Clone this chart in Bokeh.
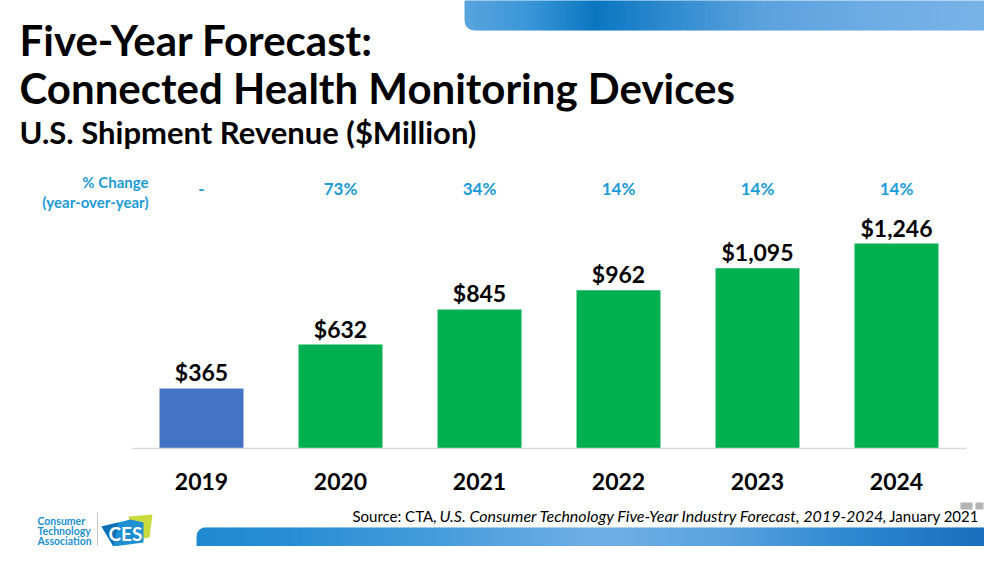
import numpy as np
from bokeh.plotting import figure
from bokeh.models import Range1d, Label
from bokeh.core.properties import value
from bokeh.embed import file_html
from bokeh.resources import INLINE

# ---------------- data ----------------
years = ["2019", "2020", "2021", "2022", "2023", "2024"]
revenue = [365, 632, 845, 962, 1095, 1246]
value_labels = ["$365", "$632", "$845", "$962", "$1,095", "$1,246"]
pct_change = ["-", "73%", "34%", "14%", "14%", "14%"]
bar_colors = ["#4472C4", "#00B050", "#00B050", "#00B050", "#00B050", "#00B050"]

FONT = "Lato"
BLUE_TXT = "#1C9AD8"

W, H = 984, 546
# layout helpers: reference pixel -> data coordinates
X0, DX = 201.0, 139.0
BASE, K = 448.0, 205.0 / 1246.0


def X(px):
    return (px - X0) / DX


def Y(py):
    return (BASE - py) / K


p = figure(width=W, height=H, output_backend="svg", toolbar_location=None,
           x_range=Range1d(X(0), X(W)), y_range=Range1d(Y(H), Y(0)),
           x_axis_location=None, y_axis_location=None,
           min_border=0, outline_line_color=None,
           background_fill_color="white", border_fill_color="white")
p.grid.visible = False


def hex2rgb(h):
    h = h.lstrip("#")
    return [int(h[i:i + 2], 16) for i in (0, 2, 4)]


def grad(stops, x):
    xs = [s[0] for s in stops]
    cols = np.array([hex2rgb(s[1]) for s in stops], dtype=float)
    r = np.interp(x, xs, cols[:, 0])
    g = np.interp(x, xs, cols[:, 1])
    b = np.interp(x, xs, cols[:, 2])
    return "#%02x%02x%02x" % (int(r), int(g), int(b))


step = 3
t = np.linspace(0, np.pi / 2, 14)

# top banner
top_stops = [(464, "#5aa4de"), (530, "#3996d8"), (595, "#0a77c1"), (660, "#2b89ce"),
             (760, "#5ca2de"), (880, "#6fade5"), (992, "#7ab4e8")]
xs = np.arange(464, 990, step)
p.quad(left=[X(v) for v in xs], right=[X(v + step + 0.6) for v in xs],
       top=[Y(-2)] * len(xs), bottom=[Y(30)] * len(xs),
       fill_color=[grad(top_stops, v + step / 2) for v in xs], line_color=None)
r = 10
p.patch([X(v) for v in [463, 463] + list(474 - r * np.cos(t))] + [X(474), X(474), X(463)],
        [Y(v) for v in [20, 20] + list(20 + r * np.sin(t))] + [Y(30), Y(31), Y(31)],
        fill_color="white", line_color=None)

# bottom banner
bot_stops = [(196, "#1f8ad0"), (300, "#2a8fd4"), (450, "#4a9edc"), (600, "#70b0e8"),
             (720, "#5aa4e0"), (850, "#2f88d0"), (992, "#1a6cbc")]
xs = np.arange(196, 990, step)
p.quad(left=[X(v) for v in xs], right=[X(v + step + 0.6) for v in xs],
       top=[Y(527)] * len(xs), bottom=[Y(560)] * len(xs),
       fill_color=[grad(bot_stops, v + step / 2) for v in xs], line_color=None)
r = 9
p.patch([X(v) for v in [195, 195] + list(205 - r * np.cos(t))],
        [Y(v) for v in [526, 536] + list(536 - r * np.sin(t))],
        fill_color="white", line_color=None)

# ---------------- bars ----------------
idx = list(range(len(years)))
p.vbar(x=idx, top=revenue, bottom=0, width=0.604, fill_color=bar_colors, line_color=None)
p.segment(x0=[X(132)], x1=[X(966)], y0=[0], y1=[0], line_color="#d9d9d9", line_width=1.5)

p.text(x=idx, y=revenue, text=value_labels, text_align="center", text_baseline="middle",
       y_offset=-16, text_font=value(FONT), text_font_style="bold", text_font_size="23px",
       text_color="black")
p.text(x=idx, y=[Y(481)] * len(idx), text=years, text_align="center", text_baseline="middle",
       text_font=value(FONT), text_font_style="bold", text_font_size="23px", text_color="black")
p.text(x=idx, y=[Y(188)] * len(idx), text=pct_change, text_align="center", text_baseline="middle",
       text_font=value(FONT), text_font_style="bold", text_font_size="17px", text_color=BLUE_TXT)

p.add_layout(Label(x=X(148), y=Y(181), text="% Change", text_align="right", text_baseline="middle",
                   text_font=FONT, text_font_style="bold", text_font_size="15px", text_color=BLUE_TXT))
p.add_layout(Label(x=X(148), y=Y(201), text="(year-over-year)", text_align="right",
                   text_baseline="middle", text_font=FONT, text_font_style="bold",
                   text_font_size="15px", text_color=BLUE_TXT))

# ---------------- titles ----------------
p.add_layout(Label(x=X(19), y=Y(39), text="Five-Year Forecast:", text_baseline="middle",
                   text_font=FONT, text_font_style="bold", text_font_size="42px", text_color="black"))
p.add_layout(Label(x=X(19), y=Y(87), text="Connected Health Monitoring Devices",
                   text_baseline="middle", text_font=FONT, text_font_style="bold",
                   text_font_size="42px", text_color="black"))
p.add_layout(Label(x=X(19), y=Y(131), text="U.S. Shipment Revenue ($Million)",
                   text_baseline="middle", text_font=FONT, text_font_style="bold",
                   text_font_size="31px", text_color="black"))

# ---------------- source ----------------
src_y = Y(515)
p.add_layout(Label(x=X(436), y=src_y, text="Source: CTA,", text_align="right",
                   text_baseline="middle", text_font=FONT, text_font_size="15px",
                   text_color="black"))
p.add_layout(Label(x=X(439), y=src_y,
                   text="U.S. Consumer Technology Five-Year Industry Forecast, 2019-2024",
                   text_baseline="middle", text_font=FONT, text_font_style="italic",
                   text_font_size="16px", text_color="black"))
p.add_layout(Label(x=X(882), y=src_y, text=", January 2021", text_align="left",
                   text_baseline="middle", text_font=FONT, text_font_size="15px",
                   text_color="black"))

# small window buttons
p.quad(left=[X(960), X(975)], right=[X(972), X(983)], top=[Y(502), Y(502)], bottom=[Y(509), Y(509)],
       fill_color="#9a9a9a", fill_alpha=0.75, line_color=None)

# ---------------- logo ----------------
for txt, yy in [("Consumer", 520), ("Technology", 530), ("Association", 540)]:
    p.add_layout(Label(x=X(37), y=Y(yy), text=txt, text_baseline="middle", text_font=FONT,
                       text_font_style="bold", text_font_size="10.5px", text_color="#1b8fd2"))
p.segment(x0=[X(97)], x1=[X(97)], y0=[Y(512)], y1=[Y(546)], line_color="#c8c8c8", line_width=1)
p.patch([X(v) for v in [128, 152, 149, 134]], [Y(v) for v in [516, 514, 537, 539]],
        fill_color="#c9dc3c", line_color=None)
p.patch([X(v) for v in [101, 130, 143, 143, 113]], [Y(v) for v in [526, 519, 522, 542, 546]],
        fill_color="#1e8fd2", line_color=None)
p.patch([X(v) for v in [101, 118, 113]], [Y(v) for v in [526, 522, 546]],
        fill_color="#0f6fb5", line_color=None)
p.add_layout(Label(x=X(125), y=Y(533), text="CES", text_align="center", text_baseline="middle",
                   text_font=FONT, text_font_style="bold", text_font_size="19px", text_color="white"))

open("out.html", "w").write(file_html(p, INLINE))
